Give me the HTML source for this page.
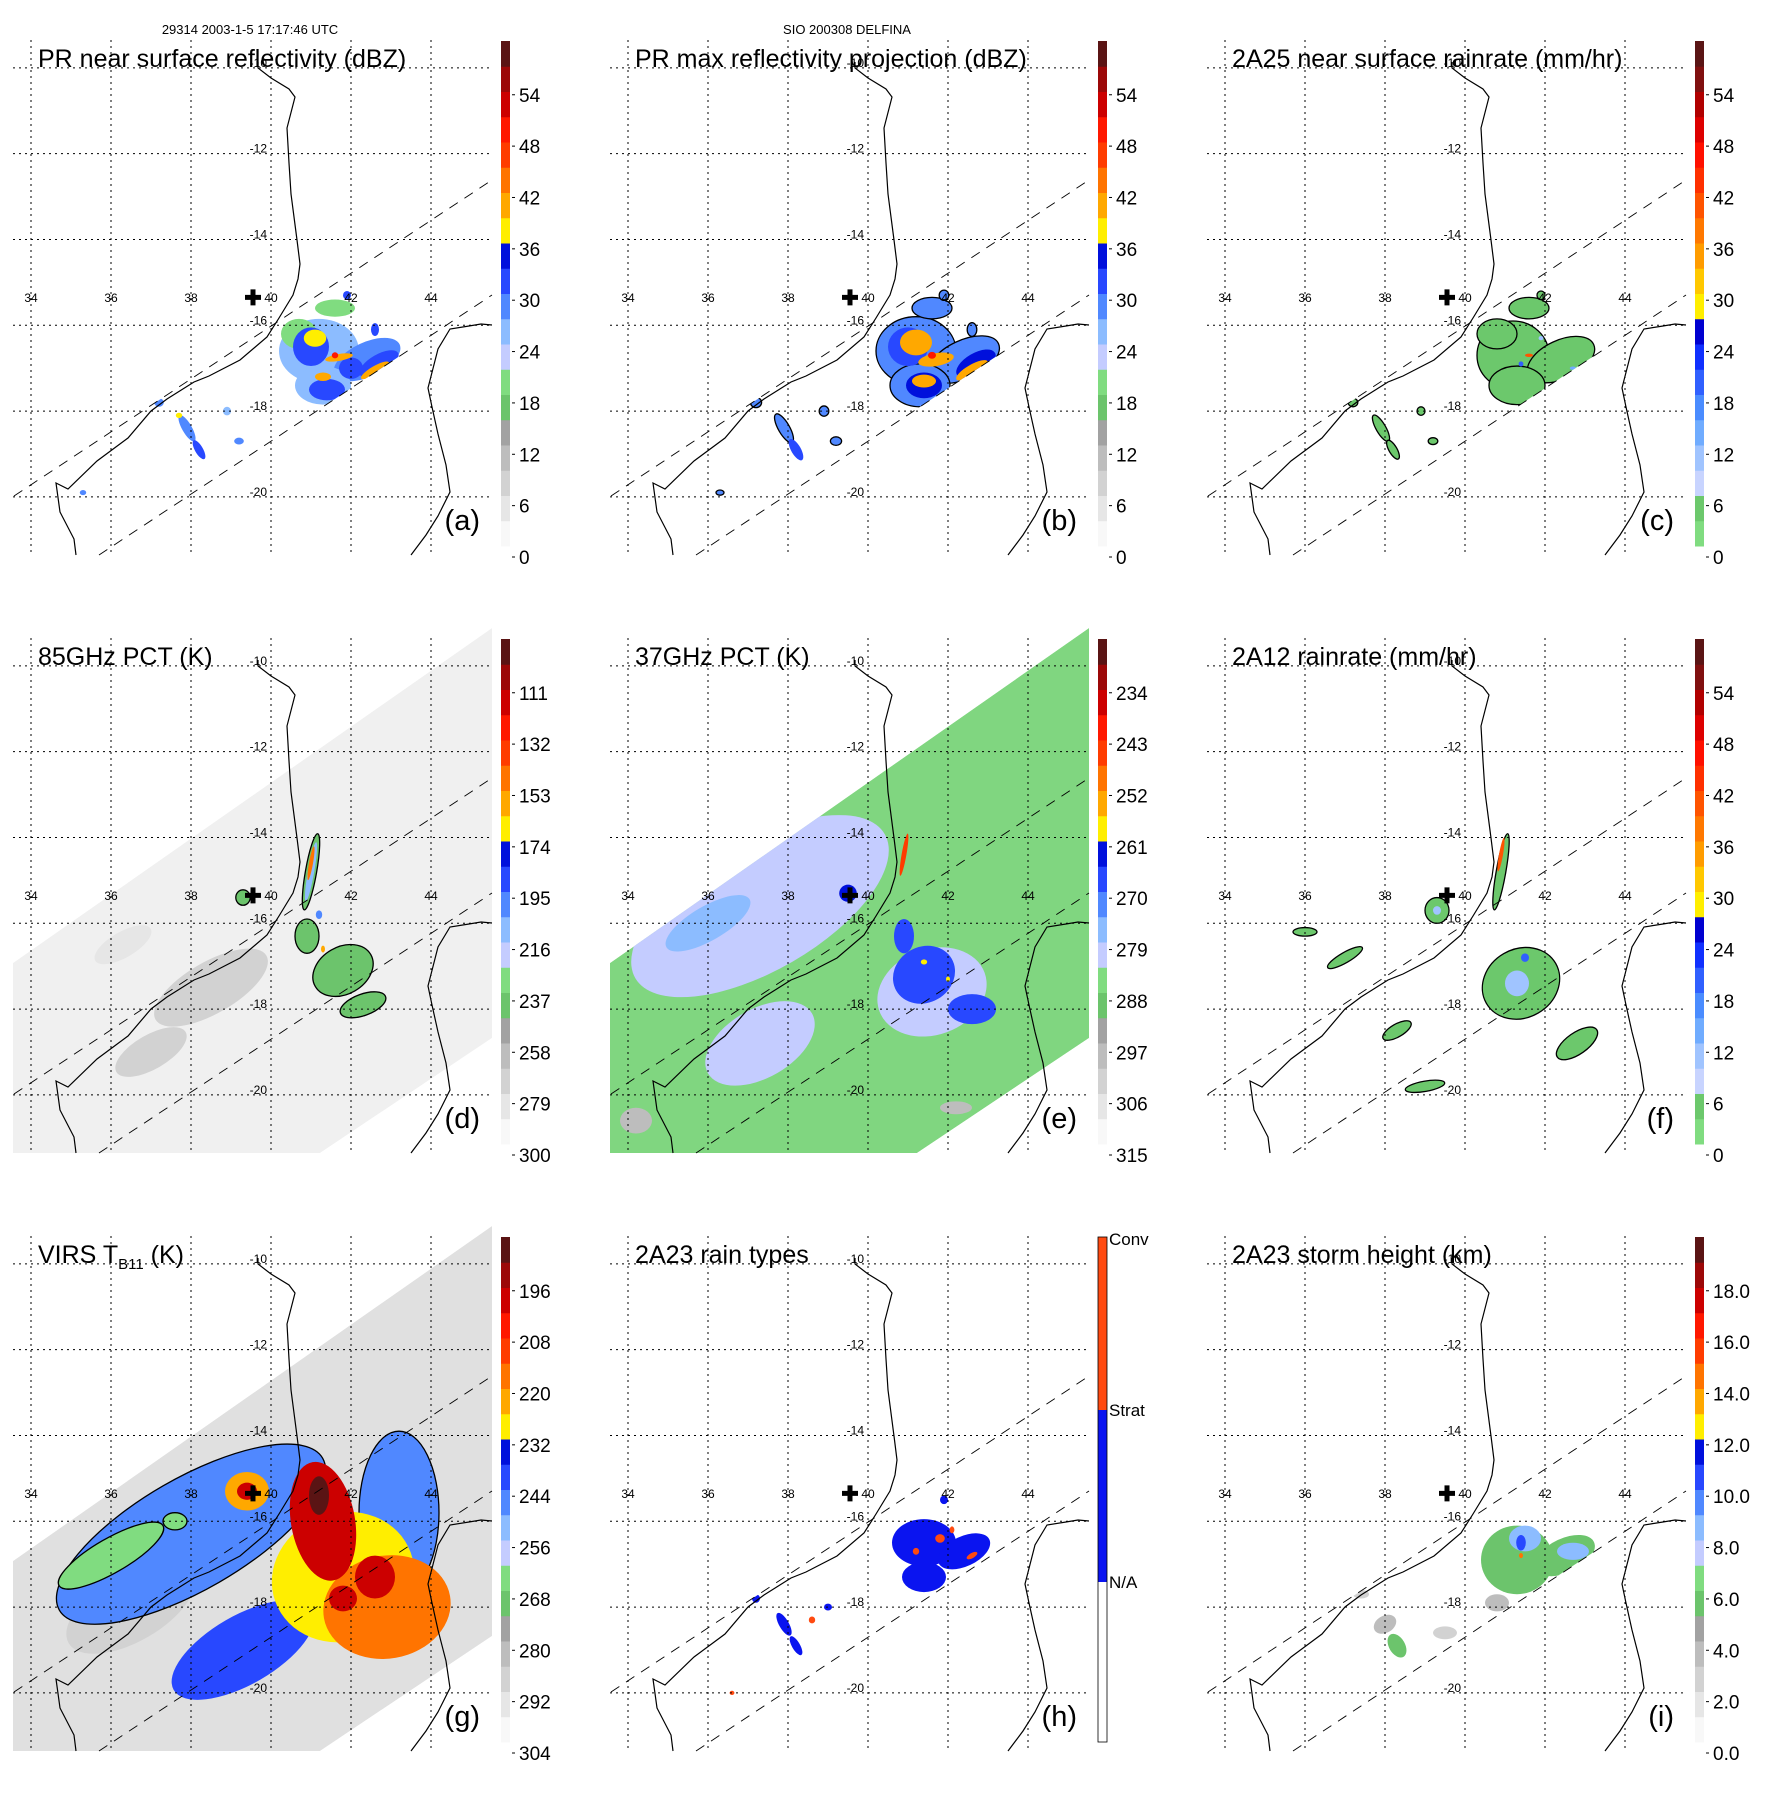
<!DOCTYPE html>
<html><head><meta charset="utf-8">
<style>
html,body{margin:0;padding:0;background:#fff;width:1771px;height:1771px;overflow:hidden;}
svg{position:absolute;font-family:"Liberation Sans",sans-serif;}
</style></head>
<body>
<div id="root"></div>
<script>
// ---------- data ----------
const dbzTicks=["0","6","12","18","24","30","36","42","48","54"];
const rainTicks=["0","6","12","18","24","30","36","42","48","54"];
const pct85Ticks=["300","279","258","237","216","195","174","153","132","111"];
const pct37Ticks=["315","306","297","288","279","270","261","252","243","234"];
const virsTicks=["304","292","280","268","256","244","232","220","208","196"];
const heightTicks=["0.0","2.0","4.0","6.0","8.0","10.0","12.0","14.0","16.0","18.0"];
const typeTicks=["N/A","Strat","Conv"];
const titles=["PR near surface reflectivity (dBZ)","PR max reflectivity projection (dBZ)","2A25 near surface rainrate (mm/hr)","85GHz PCT (K)","37GHz PCT (K)","2A12 rainrate (mm/hr)","VIRS T_B11 (K)","2A23 rain types","2A23 storm height (km)"];
const letters=["(a)","(b)","(c)","(d)","(e)","(f)","(g)","(h)","(i)"];
const lonTicks=[34,36,38,40,42,44];
const latTicks=[-10,-12,-14,-16,-18,-20];
// cells: [lon, lat, rxDeg, ryDeg, value, rotation]
const cellsA=[[41.2,-16.6,1.0,0.75,26,0],[42.4,-16.8,0.9,0.4,27,-25],[41.3,-17.4,0.7,0.45,24,0],[40.7,-16.2,0.45,0.35,18,0],[41.6,-15.6,0.5,0.2,18,0],
[41.0,-16.5,0.45,0.45,32,0],[41.4,-17.5,0.45,0.25,32,0],[42.7,-16.9,0.55,0.22,32,-30],[42.0,-17.0,0.3,0.25,31,0],
[41.1,-16.3,0.28,0.2,38,0],[41.7,-16.75,0.35,0.08,40,-10],[42.6,-17.05,0.4,0.1,41,-30],[41.3,-17.2,0.2,0.1,39,0],[41.6,-16.7,0.08,0.07,48,0],[42.8,-17.1,0.06,0.06,47,0],
[37.9,-18.4,0.12,0.35,28,-30],[38.2,-18.9,0.1,0.25,30,-30],[37.2,-17.8,0.12,0.1,27,0],[38.9,-18.0,0.1,0.1,26,0],[39.2,-18.7,0.12,0.08,27,0],[37.7,-18.1,0.08,0.06,36,0],[35.3,-19.9,0.08,0.06,27,0],[41.9,-15.3,0.1,0.1,30,0],[42.6,-16.1,0.1,0.15,30,0]];
const cellsB=[[41.2,-16.6,1.0,0.8,28,0],[42.4,-16.8,0.95,0.45,28,-25],[41.3,-17.4,0.75,0.5,28,0],[41.6,-15.6,0.5,0.25,28,0],
[41.0,-16.5,0.5,0.45,32,0],[41.4,-17.4,0.45,0.3,33,0],[42.7,-16.9,0.55,0.25,33,-30],
[41.2,-16.4,0.4,0.3,40,0],[41.7,-16.8,0.45,0.15,41,-10],[42.6,-17.05,0.45,0.13,41,-30],[41.4,-17.3,0.3,0.15,40,0],[41.6,-16.7,0.1,0.08,48,0],
[37.9,-18.4,0.14,0.38,28,-30],[38.2,-18.9,0.12,0.28,30,-30],[37.2,-17.8,0.14,0.12,28,0],[38.9,-18.0,0.12,0.12,28,0],[39.2,-18.7,0.14,0.1,28,0],[41.9,-15.3,0.12,0.12,28,0],[42.6,-16.1,0.12,0.16,28,0],[36.3,-19.9,0.1,0.06,28,0]];
const cellsC=[[41.2,-16.7,0.9,0.8,3,0],[42.4,-16.8,0.9,0.45,3,-25],[40.8,-16.2,0.5,0.35,3,0],[41.6,-15.6,0.5,0.25,3,0],[41.3,-17.4,0.7,0.45,3,0],
[41.4,-16.9,0.06,0.06,20,0],[41.6,-16.7,0.1,0.04,40,0],[42.7,-17.0,0.08,0.04,12,0],[41.9,-16.3,0.06,0.05,10,0],
[37.9,-18.4,0.12,0.35,3,-30],[38.2,-18.9,0.1,0.25,3,-30],[37.2,-17.8,0.12,0.1,3,0],[38.9,-18.0,0.1,0.1,3,0],[39.2,-18.7,0.12,0.08,3,0],[41.9,-15.3,0.1,0.1,3,0]];
const cellsD=[[38.5,-17.5,1.6,0.6,8,-30],[37,-19,1.0,0.4,6,-30],[36.3,-16.5,0.8,0.3,5,-30],
[41.8,-17.1,0.8,0.55,17,-30],[40.9,-16.3,0.3,0.4,17,0],[41.0,-14.8,0.14,0.9,17,10],[42.3,-17.9,0.6,0.25,17,-20],[39.3,-15.4,0.18,0.18,17,0],
[41.0,-14.8,0.08,0.7,25,10],[41.0,-14.6,0.05,0.4,42,10],[41.3,-16.6,0.05,0.08,40,0],[41.2,-15.8,0.08,0.1,27,0]];
const cellsE=[[37.3,-15.6,3.6,1.5,23,-30],[41.6,-17.6,1.4,1.0,23,-20],[37.3,-18.8,1.5,0.8,22,-30],[36.0,-16.0,1.2,0.4,26,-30],
[41.4,-17.2,0.8,0.65,31,-30],[40.9,-16.3,0.25,0.4,31,0],[42.6,-18.0,0.6,0.35,31,0],[39.5,-15.3,0.22,0.2,33,0],
[41.4,-16.9,0.08,0.06,38,0],[42.0,-17.3,0.05,0.06,38,0],[40.9,-14.4,0.06,0.5,45,10],[34.2,-20.6,0.4,0.3,10,0],[42.2,-20.3,0.4,0.15,10,0]];
const cellsF=[[41.4,-17.4,1.0,0.8,3,-30],[42.8,-18.8,0.6,0.25,3,-35],[40.9,-14.8,0.12,0.9,3,10],[39.3,-15.7,0.3,0.3,3,0],[37.0,-16.8,0.5,0.12,3,-30],[36.0,-16.2,0.3,0.1,3,0],[38.3,-18.5,0.4,0.15,3,-30],[39.0,-19.8,0.5,0.12,3,-10],
[41.5,-16.8,0.1,0.1,20,0],[41.3,-17.4,0.3,0.3,9,0],[40.9,-14.4,0.05,0.4,40,10],[39.3,-15.7,0.1,0.1,10,0]];
const cellsG=[[36.5,-18.0,1.8,0.8,8,-30],[38.0,-16.3,3.8,1.3,29,-30],[43.2,-15.8,1.0,1.9,27,0],[39.3,-19.0,2.0,0.8,31,-30],[36.0,-16.8,1.5,0.4,20,-30],
[41.8,-17.3,1.8,1.5,37,-20],[42.9,-18.0,1.6,1.2,42,-10],[39.4,-15.3,0.55,0.45,40,0],[39.4,-15.3,0.25,0.2,52,0],
[41.3,-16.0,0.8,1.4,52,-10],[42.6,-17.3,0.5,0.5,52,0],[41.8,-17.8,0.35,0.3,52,0],[41.2,-15.4,0.25,0.45,58,0],[37.6,-16.0,0.3,0.2,20,0]];
const cellsH=[[41.4,-16.5,0.8,0.55,1,0],[42.4,-16.7,0.7,0.35,1,-25],[41.4,-17.3,0.55,0.35,1,0],[41.9,-15.5,0.1,0.1,1,0],
[41.8,-16.4,0.12,0.1,2,0],[42.6,-16.8,0.15,0.06,2,-30],[41.2,-16.7,0.08,0.08,2,0],[42.1,-16.2,0.06,0.08,2,0],
[37.9,-18.4,0.12,0.3,1,-30],[38.2,-18.9,0.1,0.25,1,-30],[38.6,-18.3,0.08,0.08,2,0],[37.2,-17.8,0.1,0.1,1,0],[39.0,-18.0,0.1,0.08,1,0],[36.6,-20.0,0.06,0.05,2,0]];
const cellsI=[[41.3,-16.9,0.9,0.8,17,0],[42.5,-16.8,0.8,0.4,17,-25],[40.8,-17.9,0.3,0.2,10,0],
[41.5,-16.4,0.4,0.3,26,0],[42.7,-16.7,0.4,0.2,25,0],[41.4,-16.5,0.12,0.18,31,0],[41.4,-16.8,0.05,0.06,42,0],
[38.0,-18.4,0.3,0.2,10,-30],[38.3,-18.9,0.2,0.3,17,-30],[39.5,-18.6,0.3,0.15,8,0],[37.4,-17.7,0.2,0.1,8,0]];

// ---------- styles ----------
const palDbz=["#f8f8f8","#e6e6e6","#d2d2d2","#bdbdbd","#a2a2a2","#6cc46c","#80dc80","#c4ccff","#8cbcff","#5088ff","#2848ff","#0010dc","#ffee00","#ffa800","#ff7400","#ff3c00","#ff1800","#cc0000","#9c0808","#5a1414"];
const palRain=["#80dc80","#6cc86c","#c8d4ff","#a0c4ff","#70acff","#4a8cff","#3060ff","#1030ff","#0000d0","#ffee00","#ffc800","#ff9c00","#ff7800","#ff5400","#ff3000","#ff1000","#dd0000","#b00000","#801010","#5a1515"];
const X0=13,Y0=40,W=479,H=515;
function X(lon){return X0+(lon-33.55)*40;}
function Y(lat){return Y0+(-9.35-lat)*42.9;}
function colorOf(v,pal){let i=Math.floor(v/3);if(i<0)i=0;if(i>19)i=19;return pal[i];}
const NS="http://www.w3.org/2000/svg";
function el(tag,attrs,parent){const e=document.createElementNS(NS,tag);for(const k in attrs)e.setAttribute(k,attrs[k]);if(parent)parent.appendChild(e);return e;}
const coast=[[258,62],[258,68],[271,78],[289,89],[295,97],[287,128],[289,163],[291,194],[297,240],[300,264],[298,279],[293,295],[279,318],[267,337],[240,360],[209,376],[194,382],[167,399],[151,411],[128,438],[97,461],[68,489],[56,483],[60,512],[74,539],[76,555]];
const coastE=[[411,555],[426,535],[438,516],[450,492],[446,465],[438,434],[432,407],[428,388],[438,349],[450,329],[469,326],[481,324],[492,325]];
const prSwath="14,496 492,180 492,295 99,555 14,555";
const tmiSwath="13,365 492,30 492,440 320,555 13,555";

const panels=[
 {cells:cellsA,pal:palDbz,ticks:dbzTicks,clip:"pr"},
 {cells:cellsB,pal:palDbz,ticks:dbzTicks,clip:"pr",outline:29},
 {cells:cellsC,pal:palRain,ticks:rainTicks,clip:"pr",outline:4},
 {cells:cellsD,pal:palDbz,ticks:pct85Ticks,clip:"tmi",bg:"#f0f0f0",outline:17.5,outMin:15},
 {cells:cellsE,pal:palDbz,ticks:pct37Ticks,clip:"tmi",bg:"#80d680"},
 {cells:cellsF,pal:palRain,ticks:rainTicks,clip:"tmi",outline:4},
 {cells:cellsG,pal:palDbz,ticks:virsTicks,clip:"tmi",bg:"#e0e0e0",outline:29,outMin:20},
 {cells:cellsH,pal:null,ticks:typeTicks,clip:"pr",type:true},
 {cells:cellsI,pal:palDbz,ticks:heightTicks,clip:"pr"}
];
const names=["pr-near-surface-reflectivity","pr-max-reflectivity","2a25-rainrate","85ghz-pct","37ghz-pct","2a12-rainrate","virs-tb11","2a23-rain-types","2a23-storm-height"];
const root=document.getElementById('root');
panels.forEach((p,idx)=>{
 const col=idx%3,row=Math.floor(idx/3);
 const svg=el('svg',{width:597,height:597,viewBox:"0 0 597 597"},root);
 svg.style.left=(col*597)+"px";svg.style.top=(row*598)+"px";
 
 
 const cid="clip"+idx;
 const defs=el('defs',{},svg);
 const cp=el('clipPath',{id:cid},defs);
 el('polygon',{points:p.clip==="pr"?prSwath:tmiSwath},cp);
 const field=el('g',{"clip-path":"url(#"+cid+")"},svg);
 
 
 if(p.bg) el('polygon',{points:tmiSwath,fill:p.bg},field);
 p.cells.forEach(c=>{
  const [lon,lat,rx,ry,v,rot]=c;
  let fill;
  if(p.type) fill=v>=2?"#ff4a10":"#0a14f0"; else fill=colorOf(v,p.pal);
  const e=el('ellipse',{cx:X(lon),cy:Y(lat),rx:rx*40,ry:ry*42.9,fill:fill,transform:"rotate("+(rot||0)+" "+X(lon)+" "+Y(lat)+")"},field);
  if(p.outline&&v<=p.outline&&v>=(p.outMin||0)){e.setAttribute('stroke','#000');e.setAttribute('stroke-width','1.3');}
  
  
 });
 // grid
 const g=el('g',{stroke:"#000","stroke-width":1,"stroke-dasharray":"2,4"},svg);
 
 
 lonTicks.forEach(l=>el('line',{x1:X(l),x2:X(l),y1:Y0,y2:Y0+H},g));
 latTicks.forEach(l=>el('line',{x1:X0,x2:X0+W,y1:Y(l),y2:Y(l)},g));
 // coast
 const cl=el('polyline',{points:coast.map(q=>q.join(",")).join(" "),fill:"none",stroke:"#000","stroke-width":1.2},svg);
 
 
 const ce=el('polyline',{points:coastE.map(q=>q.join(",")).join(" "),fill:"none",stroke:"#000","stroke-width":1.2},svg);
 
 
 // swath dashed
 const sw=el('g',{stroke:"#000","stroke-width":0.9,"stroke-dasharray":"10,8",fill:"none"},svg);
 
 
 el('line',{x1:14,y1:496,x2:492,y2:180},sw);
 el('line',{x1:99,y1:555,x2:492,y2:295},sw);
 // tick labels
 const tl=el('g',{"font-size":12,fill:"#000"},svg);
 
 
 lonTicks.forEach(l=>{const t=el('text',{x:X(l),y:302,"text-anchor":"middle"},tl);t.textContent=String(l);});
 latTicks.forEach(l=>{const t=el('text',{x:X(40)-4,y:Y(l)-1,"text-anchor":"end"},tl);t.textContent=String(l);});
 // cross
 const cx=X(39.55),cy=Y(-15.35);
 const cr=el('path',{d:`M${cx-8},${cy-2.5}h16v5h-16zM${cx-2.5},${cy-8}h5v16h-5z`,fill:"#000"},svg);
 
 
 // title
 const tt=el('text',{x:38,y:67,"font-size":25,fill:"#000"},svg);
 
 
 if(titles[idx].indexOf("_B11")>=0){
  const a=el('tspan',{},tt);a.textContent="VIRS T";
  const b=el('tspan',{"font-size":15,dy:6},tt);b.textContent="B11";
  const c=el('tspan',{dy:-6},tt);c.textContent=" (K)";
 } else tt.textContent=titles[idx];
 const lt=el('text',{x:480,y:530,"font-size":29,"text-anchor":"end",fill:"#000"},svg);
 
 
 lt.textContent=letters[idx];
 // colorbar
 const cb=el('g',{},svg);
 
 
 const cbx=501,cbw=9,cbTop=41,cbBot=546;
 if(p.type){
  el('rect',{x:cbx,y:386,width:cbw,height:cbBot-386,fill:"#fff"},cb);
  el('rect',{x:cbx,y:214,width:cbw,height:172,fill:"#0a14f0"},cb);
  el('rect',{x:cbx,y:cbTop,width:cbw,height:173,fill:"#ff4a10"},cb);
  el('rect',{x:cbx,y:cbTop,width:cbw,height:cbBot-cbTop,fill:"none",stroke:"#000","stroke-width":0.8},cb);
  const ys=[386,214,43];
  typeTicks.forEach((s,i)=>{const t=el('text',{x:512,y:ys[i]+6,"font-size":17},cb);t.textContent=s;});
 } else {
  const h=(cbBot-cbTop)/20;
  p.pal.forEach((c,i)=>el('rect',{x:cbx,y:cbBot-(i+1)*h,width:cbw,height:h+0.5,fill:c},cb));
  p.ticks.forEach((s,i)=>{const y=557-i*6*8.56;
   el('line',{x1:512,x2:515,y1:y,y2:y,stroke:"#000"},cb);
   const t=el('text',{x:519,y:y+7,"font-size":19},cb);t.textContent=s;});
 }
 if(idx===0){const t=el('text',{x:250,y:34,"font-size":13,"text-anchor":"middle"},svg);t.textContent="29314 2003-1-5 17:17:46 UTC";}
 if(idx===1){const t=el('text',{x:250,y:34,"font-size":13,"text-anchor":"middle"},svg);t.textContent="SIO 200308 DELFINA";}
});
</script>
</body></html>
